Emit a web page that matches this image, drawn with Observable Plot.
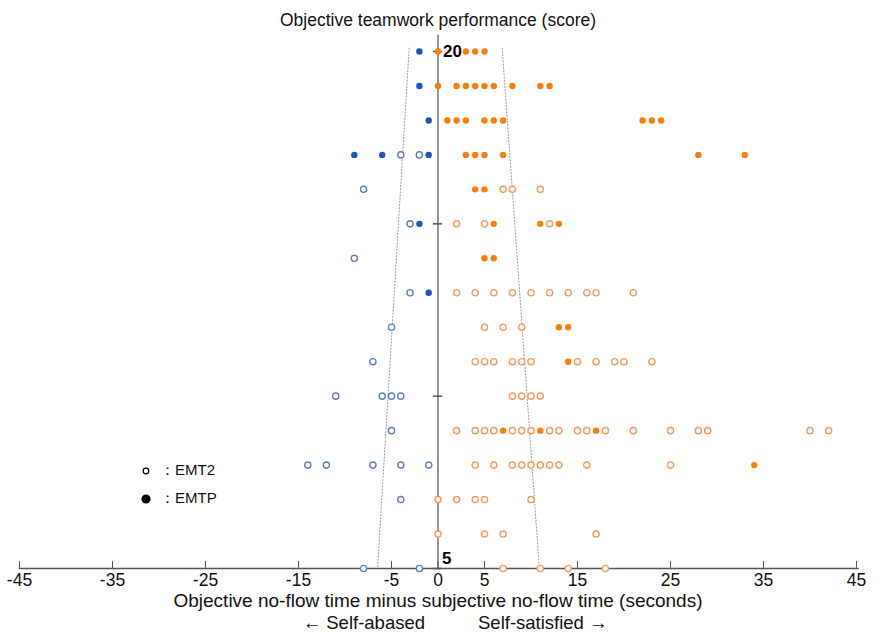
<!DOCTYPE html>
<html>
<head>
<meta charset="utf-8">
<script src="https://cdn.jsdelivr.net/npm/d3@7"></script>
<script src="https://cdn.jsdelivr.net/npm/@observablehq/plot@0.6"></script>
<style>
  html, body { margin: 0; padding: 0; background: #fff; }
  #wrap { position: relative; width: 878px; height: 635px; font-family: "Liberation Sans", Arial, sans-serif; }
  .leg { position: absolute; font-size: 15px; color: #111; display: flex; align-items: center; }
  .leg svg { margin-right: 6px; }
</style>
</head>
<body>
<div id="wrap"></div>
<script>
// Scores (rows, top to bottom)
const scores = [20, 19, 18, 17, 16, 15, 14, 13, 12, 11, 10, 9, 8, 7, 6, 5];

// EMTP (filled) differences per score row
const emtpDiffs = [
  [-2, 0, 3, 4, 5],
  [-2, 0, 2, 3, 4, 5, 6, 8, 11, 12],
  [-1, 1, 2, 3, 5, 6, 7, 22, 23, 24],
  [-9, -6, -1, 3, 4, 5, 7, 28, 33],
  [4, 5],
  [-2, 6, 11, 13],
  [5, 6],
  [-1],
  [13, 14],
  [14],
  [],
  [7, 11, 17],
  [34],
  [],
  [],
  []
];

// EMT2 (open) differences per score row
const emt2Diffs = [
  [],
  [],
  [],
  [-4, -2],
  [-8, 7, 8, 11],
  [-3, 2, 5, 12],
  [-9],
  [-3, 2, 4, 6, 8, 10, 12, 14, 16, 17, 21],
  [-5, 5, 7, 9],
  [-7, 4, 5, 6, 8, 9, 10, 15, 17, 19, 20, 23],
  [-11, -6, -5, -4, 8, 9, 10, 11],
  [-5, 2, 4, 5, 6, 8, 9, 10, 12, 13, 15, 16, 18, 21, 25, 28, 29, 40, 42],
  [-14, -12, -7, -4, -1, 4, 6, 8, 9, 10, 11, 12, 13, 16, 25],
  [-4, 0, 2, 4, 5, 10],
  [0, 5, 7, 17],
  [-8, -2, 7, 11, 14, 18]
];

// Dotted boundary lines: [diff, score] endpoints
const leftBoundary = [[-3.1, 20.1], [-6.5, 5]];
const rightBoundary = [[6.9, 20.1], [10.9, 5]];

const xTicks = [-45, -35, -25, -15, -5, 0, 5, 15, 25, 35, 45];
const xTickLabels = ["-45", "-35", "-25", "-15", "-5", "0", "5", "15", "25", "35", "45"];
const yTicks = [20, 15, 10, 5];
const yTopLabel = ["20"];
const yBottomLabel = ["5"];

const title = "Objective teamwork performance (score)";
const xTitle = "Objective no-flow time minus subjective no-flow time (seconds)";
const leftNote = "← Self-abased";
const rightNote = "Self-satisfied →";

const emtp = scores.flatMap((s, i) => emtpDiffs[i].map(d => ({score: s, diff: d})));
const emt2 = scores.flatMap((s, i) => emt2Diffs[i].map(d => ({score: s, diff: d})));
const tickTable = xTicks.map((v, i) => ({v, label: xTickLabels[i]}));

const blueFill = "#1d56b3", orangeFill = "#f7800f";
const blueOpen = "#5f80c0", orangeOpen = "#f29c5f";

const chart = Plot.plot({
  width: 878,
  height: 635,
  marginLeft: 19,
  marginRight: 22,
  marginTop: 51,
  marginBottom: 67,
  style: {fontFamily: "Liberation Sans, Arial, sans-serif", fontSize: "16px", background: "#fff", color: "#111"},
  x: {domain: [-45, 45], label: null, axis: null},
  y: {domain: [5, 20], axis: null, label: null},
  marks: [
    // dotted boundaries
    Plot.line(leftBoundary, {x: d => d[0], y: d => d[1], stroke: "#9a9a9a", strokeWidth: 1, strokeDasharray: "1.2,2"}),
    Plot.line(rightBoundary, {x: d => d[0], y: d => d[1], stroke: "#9a9a9a", strokeWidth: 1, strokeDasharray: "1.2,2"}),
    // vertical zero axis
    Plot.ruleX([0], {y1: 5, y2: 20.47, stroke: "#7a7a7a", strokeWidth: 1.6}),
    Plot.ruleY(yTicks, {y: d => d, x1: -0.5, x2: 0.5, stroke: "#555", strokeWidth: 1.5}),
    // x axis line and ticks
    Plot.ruleY([5], {x1: -45, x2: 45.3, stroke: "#555", strokeWidth: 1.3}),
    Plot.ruleX(xTicks, {x: d => d, y1: 5, y2: 5.2, stroke: "#555", strokeWidth: 1}),
    Plot.text(tickTable, {x: "v", y: 5, dy: 12, text: "label", fontSize: 17.5, fill: "#111"}),
    // open points (EMT2)
    Plot.dot(emt2, {x: "diff", y: "score", r: 3.1, fill: "white", strokeWidth: 1.4,
      stroke: d => d.diff < 0 ? blueOpen : orangeOpen}),
    // filled points (EMTP)
    Plot.dot(emtp, {x: "diff", y: "score", r: 3.2, stroke: "none",
      fill: d => d.diff < 0 ? blueFill : orangeFill}),
    // y labels
    Plot.text(yTopLabel, {x: 0, y: 20, text: d => d, textAnchor: "start", dx: 5,
      fontSize: 17, fontWeight: "bold", fill: "#000"}),
    Plot.text(yBottomLabel, {x: 0, y: 5, text: d => d, textAnchor: "start", dx: 4, dy: -10,
      fontSize: 17, fontWeight: "bold", fill: "#000"}),
    // title
    Plot.text([title], {frameAnchor: "top", lineAnchor: "middle", dy: -31, fontSize: 17.5, fill: "#111"}),
    // x title
    Plot.text([xTitle], {frameAnchor: "bottom", lineAnchor: "middle", dy: 32, fontSize: 19, fill: "#111"}),
    Plot.text([leftNote], {x: 0, frameAnchor: "bottom", lineAnchor: "middle", dy: 55, dx: -13, textAnchor: "end", fontSize: 18.5, fill: "#111"}),
    Plot.text([rightNote], {x: 0, frameAnchor: "bottom", lineAnchor: "middle", dy: 55, dx: 40, textAnchor: "start", fontSize: 18.5, fill: "#111"})
  ]
});

const wrap = document.getElementById("wrap");
wrap.appendChild(chart);

function legendItem(top, filled, label) {
  const div = document.createElement("div");
  div.className = "leg";
  div.style.left = "138px";
  div.style.top = top + "px";
  div.innerHTML = `<svg width="16" height="16" viewBox="0 0 16 16">` +
    (filled ? `<circle cx="8" cy="8" r="4.6" fill="#000"/>` : `<circle cx="8" cy="8" r="2.8" fill="none" stroke="#000" stroke-width="1.2"/>`) +
    `</svg><span>：${label}</span>`;
  wrap.appendChild(div);
}
legendItem(461, false, "EMT2");
legendItem(489, true, "EMTP");
</script>
</body>
</html>
